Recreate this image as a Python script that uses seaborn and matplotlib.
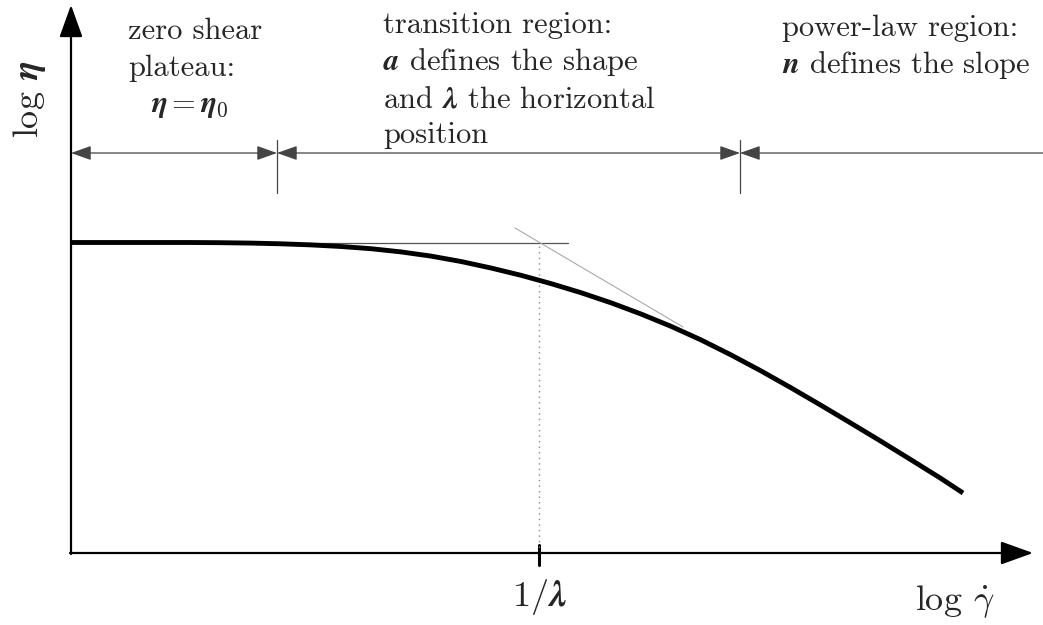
import matplotlib
matplotlib.use("Agg")
import matplotlib.pyplot as plt
import seaborn as sns
import pandas as pd

# Schematic flow curve (log viscosity vs. log shear rate), arbitrary log units
log_rate = [0.00, 0.60, 1.20, 1.50, 1.80, 2.10, 2.40, 2.70, 3.00, 3.30,
            3.60, 3.90, 4.20, 4.50, 4.80, 5.10, 5.40, 5.70, 6.00, 6.30,
            6.60, 6.90, 7.20, 7.50, 7.80, 8.10, 8.40, 8.70, 8.92]
log_visc = [3.105, 3.105, 3.105, 3.103, 3.099, 3.092, 3.081, 3.065, 3.043, 3.011,
            2.969, 2.915, 2.850, 2.777, 2.694, 2.603, 2.502, 2.390, 2.267, 2.131,
            1.981, 1.821, 1.652, 1.477, 1.298, 1.117, 0.932, 0.745, 0.600]

log_eta0 = 3.105          # zero-shear plateau level
log_inv_lambda = 4.68     # characteristic rate 1/lambda
plateau_end = 4.97        # end of the plateau guide line
asym_x = [4.44, 6.12]     # power-law asymptote end points
asym_y = [3.25, 2.26]

# region boundaries along the dimension line
region_bounds = [0.00, 2.06, 6.69]
dim_level = 4.00
dim_right = 9.80
sep_low, sep_high = 3.60, 4.13

x_max, y_max = 9.62, 5.48

sns.set_theme(style="white")
plt.rcParams["font.family"] = ["cmr10", "DejaVu Serif"]
plt.rcParams["mathtext.fontset"] = "cm"
plt.rcParams["axes.unicode_minus"] = False

fig = plt.figure(figsize=(10.43, 6.25), dpi=100)
ax = fig.add_axes([0, 0, 1, 1])
ax.set_xlim(-0.71, 9.72)
ax.set_ylim(-0.72, 5.53)
ax.axis("off")

df = pd.DataFrame({"log_rate": log_rate, "log_visc": log_visc})
sns.lineplot(data=df, x="log_rate", y="log_visc", color="black", lw=3.5,
             ax=ax, sort=False, solid_capstyle="butt", solid_joinstyle="round",
             zorder=5)

# guide lines
ax.plot([0, plateau_end], [log_eta0, log_eta0], color="#555555", lw=0.9, zorder=3)
ax.plot(asym_x, asym_y, color="#aaaaaa", lw=0.8, zorder=3)
ax.plot([log_inv_lambda, log_inv_lambda], [0, log_eta0], color="#888888",
        lw=1.0, ls=(0, (1, 3)), zorder=3)

# coordinate axes with arrow heads
axis_arrow = dict(arrowstyle="-|>,head_length=1.0,head_width=0.36",
                  mutation_scale=20, lw=1.6, color="black",
                  shrinkA=0, shrinkB=0)
ax.annotate("", xy=(0, y_max), xytext=(0, -0.01), arrowprops=axis_arrow)
ax.annotate("", xy=(x_max, 0), xytext=(-0.01, 0), arrowprops=axis_arrow)
ax.plot([log_inv_lambda, log_inv_lambda], [-0.12, 0.08], color="black", lw=2.2)

# dimension line marking the three regions
dim_both = dict(arrowstyle="<|-|>,head_length=0.62,head_width=0.22",
                mutation_scale=20, lw=0.9, color="#444444",
                shrinkA=0, shrinkB=0)
dim_one = dict(arrowstyle="-|>,head_length=0.62,head_width=0.22",
               mutation_scale=20, lw=0.9, color="#444444",
               shrinkA=0, shrinkB=0)
ax.annotate("", xy=(region_bounds[0], dim_level),
            xytext=(region_bounds[1], dim_level), arrowprops=dim_both)
ax.annotate("", xy=(region_bounds[1], dim_level),
            xytext=(region_bounds[2], dim_level), arrowprops=dim_both)
ax.annotate("", xy=(region_bounds[2], dim_level),
            xytext=(dim_right, dim_level), arrowprops=dim_one)
for xb in region_bounds[1:]:
    ax.plot([xb, xb], [sep_low, sep_high], color="#444444", lw=0.9)

# region descriptions
fs = 22
ax.text(0.57, 5.14, "zero shear", fontsize=fs, va="baseline")
ax.text(0.57, 4.77, "plateau:", fontsize=fs, va="baseline")
ax.text(1.19, 4.41, r"$\mathbfit{\eta} = \mathbfit{\eta}_0$",
        fontsize=fs, va="baseline", ha="center")

ax.text(3.12, 5.20, "transition region:", fontsize=fs, va="baseline")
ax.text(3.12, 4.83, r"$\mathbfit{a}$ defines the shape", fontsize=fs, va="baseline")
ax.text(3.12, 4.46, r"and $\mathbfit{\lambda}$ the horizontal", fontsize=fs, va="baseline")
ax.text(3.12, 4.10, "position", fontsize=fs, va="baseline")

ax.text(7.11, 5.17, "power-law region:", fontsize=fs, va="baseline")
ax.text(7.11, 4.80, r"$\mathbfit{n}$ defines the slope", fontsize=fs, va="baseline")

# axis labels
ax.text(-0.42, 4.54, r"log $\mathbfit{\eta}$", fontsize=26, rotation=90,
        ha="center", va="center")
ax.text(8.44, -0.57, r"log $\dot{\gamma}$", fontsize=26, va="baseline")
ax.text(log_inv_lambda, -0.53, r"$1/\mathbfit{\lambda}$", fontsize=26,
        ha="center", va="baseline")

fig.savefig("out.png", dpi=100, facecolor="white")
